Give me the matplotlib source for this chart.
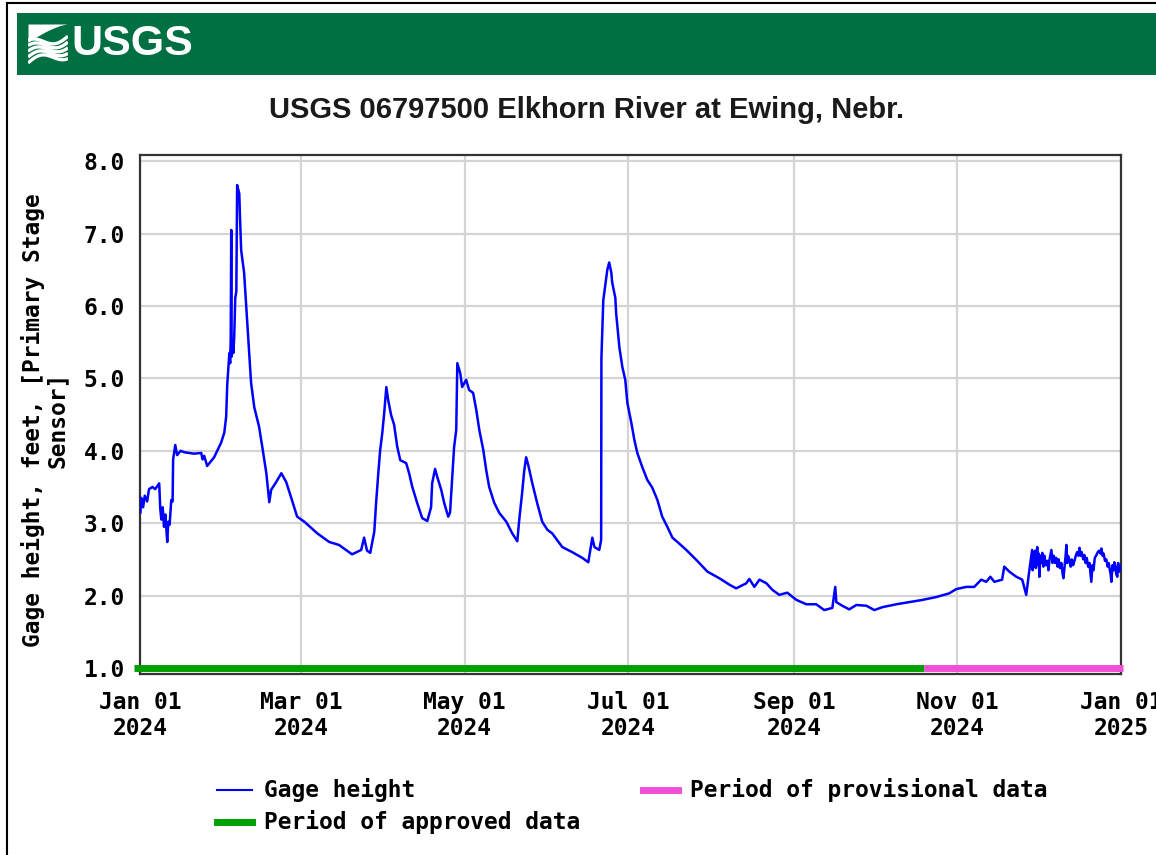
import numpy as np
import pandas as pd
import matplotlib
matplotlib.use('Agg')
import matplotlib.pyplot as plt
from matplotlib.lines import Line2D
from matplotlib.patches import Rectangle

# Gage height readings
# day: days since 2024-01-01 00:00, ft: gage height in feet
winter_day = [0.0, 0.3, 1.0, 1.6, 2.5, 3.2, 4.5, 5.5, 7.0, 7.4,
              7.8, 8.3, 8.8, 9.3, 10.0, 10.4, 10.9, 11.5, 12.0, 12.2,
              13.0, 13.7, 15.0, 16.3, 20.0, 22.7, 23.2, 23.8, 24.9, 27.5,
              30.1, 31.3, 32.0, 32.4, 33.2, 33.5, 33.7, 33.9, 34.05, 34.4,
              34.7, 35.0, 35.4, 35.8, 36.1, 36.9, 37.2, 37.6, 38.7, 39.5,
              40.6, 41.3, 42.5, 44.3, 45.5, 47.0, 48.1, 48.8, 50.7, 52.6,
              54.4, 56.3, 58.5, 61.2, 66.0, 70.5, 74.1, 79.0, 82.4]
winter_ft = [3.15, 3.35, 3.22, 3.38, 3.30, 3.47, 3.50, 3.47, 3.55, 3.20,
             3.05, 3.22, 2.95, 3.12, 2.74, 3.02, 2.98, 3.32, 3.30, 3.88,
             4.08, 3.94, 4.00, 3.98, 3.96, 3.97, 3.88, 3.93, 3.79, 3.91,
             4.11, 4.25, 4.47, 4.91, 5.35, 5.21, 5.55, 7.05, 5.30, 5.52,
             5.35, 5.57, 6.11, 6.20, 7.67, 7.55, 7.19, 6.77, 6.46, 5.99,
             5.36, 4.94, 4.60, 4.33, 4.05, 3.69, 3.29, 3.46, 3.57, 3.69,
             3.57, 3.35, 3.09, 3.02, 2.86, 2.74, 2.70, 2.57, 2.63]

spring_day = [83.5, 84.6, 85.8, 86.5, 87.3, 88.0, 88.8, 89.5, 90.3, 91.0,
              91.8, 92.5, 93.6, 94.7, 95.9, 97.0, 99.2, 100.3, 101.5, 103.3,
              105.2, 107.1, 108.5, 108.9, 110.0, 110.8, 112.3, 113.4, 114.9, 115.6,
              116.4, 117.1, 117.9, 118.3, 119.4, 120.1, 121.6, 122.7, 124.2, 125.4,
              126.5, 128.0, 129.1, 130.2, 132.1, 134.0, 136.6, 138.8, 140.7, 141.4,
              142.5, 143.3, 144.0, 144.8, 146.3, 148.1, 150.0, 151.9, 153.7, 157.5,
              161.2, 165.0, 167.2, 168.7, 169.5, 171.3, 172.0]
spring_ft = [2.80, 2.62, 2.59, 2.73, 2.88, 3.29, 3.69, 4.01, 4.25, 4.52,
             4.88, 4.70, 4.49, 4.36, 4.05, 3.87, 3.83, 3.69, 3.50, 3.28,
             3.07, 3.03, 3.22, 3.55, 3.75, 3.64, 3.46, 3.28, 3.09, 3.15,
             3.64, 4.05, 4.29, 5.21, 5.07, 4.88, 4.98, 4.84, 4.80, 4.56,
             4.29, 4.01, 3.73, 3.50, 3.28, 3.14, 3.02, 2.86, 2.75, 3.04,
             3.42, 3.73, 3.91, 3.80, 3.55, 3.28, 3.02, 2.91, 2.86, 2.67,
             2.60, 2.52, 2.46, 2.80, 2.67, 2.63, 2.77]

summer_day = [172.1, 172.8, 173.9, 174.3, 175.0, 175.8, 176.1, 177.3, 177.6, 178.8,
              179.9, 181.0, 181.8, 183.3, 184.4, 185.5, 187.3, 189.2, 191.1, 193.0,
              194.8, 196.7, 198.6, 200.5, 203.8, 207.6, 211.7, 216.1, 219.9, 222.4,
              226.2, 227.3, 229.2, 231.1, 233.7, 235.9, 238.5, 241.5, 244.9, 248.6,
              252.3, 255.3, 258.3, 259.4, 259.8, 262.0, 264.6, 267.3, 271.0, 274.0,
              277.0, 282.2, 287.0, 291.9, 297.1]
summer_ft = [5.28, 6.08, 6.39, 6.50, 6.60, 6.46, 6.33, 6.11, 5.90, 5.43,
             5.16, 4.98, 4.66, 4.38, 4.15, 3.97, 3.78, 3.60, 3.49, 3.32,
             3.09, 2.95, 2.80, 2.74, 2.63, 2.49, 2.33, 2.24, 2.15, 2.10,
             2.17, 2.23, 2.12, 2.22, 2.17, 2.08, 2.01, 2.04, 1.94, 1.88,
             1.88, 1.80, 1.83, 2.12, 1.91, 1.86, 1.81, 1.87, 1.86, 1.80,
             1.84, 1.88, 1.91, 1.94, 1.98]

fall_day = [301.9, 304.6, 308.3, 311.3, 313.9, 315.8, 317.3, 318.8, 321.7, 322.5,
            324.4, 327.0, 329.2, 330.7, 331.8, 332.9, 333.1, 333.4, 333.7, 334.0,
            334.3, 334.8, 335.1, 335.4, 335.6, 336.0, 336.4, 336.7, 337.1, 337.5,
            338.0, 338.6, 339.0, 339.4, 340.1, 340.5, 341.0, 341.5, 341.9, 342.4,
            342.8, 343.3, 343.8, 344.3, 344.6, 345.0, 345.4, 345.7, 346.0, 346.3,
            346.8, 347.3, 347.7, 348.2, 348.7, 349.2, 349.7, 350.2, 350.6, 351.0,
            351.4, 352.0, 352.4, 352.9, 353.3, 353.8, 354.3, 354.7, 355.0, 355.4,
            355.8, 356.3, 356.9, 357.4, 357.9, 358.4, 358.8, 359.2, 359.6, 360.1,
            360.6, 361.1, 361.5, 361.8, 362.2, 362.5, 362.9, 363.3, 363.6, 364.0,
            364.3, 364.7, 365.0, 365.4, 365.8, 366.0]
fall_ft = [2.03, 2.09, 2.12, 2.12, 2.22, 2.19, 2.26, 2.19, 2.22, 2.40,
           2.33, 2.26, 2.22, 2.01, 2.33, 2.63, 2.35, 2.60, 2.40, 2.62,
           2.38, 2.67, 2.42, 2.58, 2.26, 2.55, 2.45, 2.59, 2.40, 2.55,
           2.42, 2.48, 2.35, 2.50, 2.63, 2.45, 2.55, 2.45, 2.52, 2.40,
           2.50, 2.38, 2.45, 2.30, 2.24, 2.40, 2.55, 2.70, 2.45, 2.55,
           2.49, 2.40, 2.50, 2.42, 2.48, 2.55, 2.60, 2.55, 2.66, 2.55,
           2.60, 2.50, 2.56, 2.45, 2.52, 2.40, 2.45, 2.30, 2.19, 2.42,
           2.35, 2.52, 2.56, 2.60, 2.62, 2.58, 2.65, 2.55, 2.58, 2.48,
           2.50, 2.40, 2.45, 2.38, 2.30, 2.19, 2.42, 2.35, 2.46, 2.40,
           2.30, 2.26, 2.45, 2.33, 2.42, 2.38]

approved_start = '2023-12-29 16:00'
approved_end = '2024-10-19 14:00'
provisional_end = '2025-01-01 16:00'

tick_dates = ['2024-01-01', '2024-03-01', '2024-05-01', '2024-07-01',
              '2024-09-01', '2024-11-01', '2025-01-01']
tick_labels = ['Jan 01\n2024', 'Mar 01\n2024', 'May 01\n2024', 'Jul 01\n2024',
               'Sep 01\n2024', 'Nov 01\n2024', 'Jan 01\n2025']
y_ticks = [1, 2, 3, 4, 5, 6, 7, 8]

title = 'USGS 06797500 Elkhorn River at Ewing, Nebr.'
ylabel = 'Gage height, feet, [Primary Stage\nSensor]'

day = winter_day + spring_day + summer_day + fall_day
gage_ft = winter_ft + spring_ft + summer_ft + fall_ft
assert len(day) == len(gage_ft)

W, H = 1156, 855
mono = dict(family='DejaVu Sans Mono', weight='bold', size=16.5)

dates = pd.Timestamp('2024-01-01') + pd.to_timedelta(day, unit='D')

fig = plt.figure(figsize=(W / 100, H / 100), dpi=100)
fig.patch.set_facecolor('white')

# outer frame (left/top visible)
fig.add_artist(Line2D([7 / W, 7 / W], [0, 1 - 3 / H], color='black', lw=1.5))
fig.add_artist(Line2D([7 / W, 1], [1 - 3 / H, 1 - 3 / H], color='black', lw=1.5))

# USGS header bar
fig.add_artist(Rectangle((17 / W, 1 - 75 / H), 1, 62 / H, color='#006f41', lw=0, zorder=0))
fig.text(71 / W, 1 - 44 / H, 'USGS', color='white', fontsize=31, weight='bold',
         family='Liberation Sans', va='center', ha='left', zorder=6)

# wave logo mark
icon = fig.add_axes([28 / W, 1 - 65 / H, 40 / W, 41 / H])
icon.set_zorder(5)
icon.set_xlim(0, 1)
icon.set_ylim(0, 1)
icon.axis('off')
xs = np.linspace(0, 1, 50)
icon.fill_between(xs, 1 - 0.45 * (1 - xs) ** 1.5, 1, color='white', lw=0)
for k in range(5):
    off = 0.05 + k * 0.11
    icon.plot(xs, off + 0.12 * np.sin(np.pi * xs * 1.6 + k * 0.3) + 0.22 * xs,
              color='white', lw=2.4, solid_capstyle='butt')

fig.text(587 / W, 1 - 110 / H, title, ha='center', va='center', fontsize=21,
         weight='bold', family='Liberation Sans', color='#1a1a1a')

ax = fig.add_axes([140 / W, 1 - 674 / H, (1121 - 140) / W, (674 - 155) / H])
ax.plot(dates, gage_ft, color='#0000ff', lw=1.8, zorder=3)
ax.plot(pd.to_datetime([approved_start, approved_end]), [1, 1], color='#00a000',
        lw=5, solid_capstyle='butt', clip_on=False, zorder=4)
ax.plot(pd.to_datetime([approved_end, provisional_end]), [1, 1], color='#f050d8',
        lw=5, solid_capstyle='butt', clip_on=False, zorder=4)

ax.set_xlim(pd.Timestamp('2023-12-31 20:00'), pd.Timestamp('2025-01-01 02:00'))
ax.set_ylim(0.917, 8.085)
ax.set_xticks(pd.to_datetime(tick_dates))
ax.set_xticklabels(tick_labels, **mono)
ax.set_yticks(y_ticks)
ax.set_yticklabels(['%.1f' % v for v in y_ticks], **mono)
ax.tick_params(axis='both', length=0)
ax.tick_params(axis='x', pad=12)
ax.tick_params(axis='y', pad=11)
ax.grid(True, color='#d4d4d4', lw=1.6)
ax.set_axisbelow(True)
for s in ax.spines.values():
    s.set_color('#333333')
    s.set_linewidth(1.6)

fig.text(45 / W, 1 - 420 / H, ylabel, rotation=90, ha='center', va='center',
         multialignment='center', linespacing=1.05, **mono)

# legend
fig.add_artist(Line2D([217 / W, 252 / W], [1 - 790 / H] * 2, color='#0000ff', lw=1.5))
fig.text(264 / W, 1 - 790 / H, 'Gage height', va='center', ha='left', **mono)
fig.add_artist(Line2D([217 / W, 252 / W], [1 - 822 / H] * 2, color='#00a000', lw=5))
fig.text(264 / W, 1 - 822 / H, 'Period of approved data', va='center', ha='left', **mono)
fig.add_artist(Line2D([643 / W, 678 / W], [1 - 790 / H] * 2, color='#f050d8', lw=5))
fig.text(690 / W, 1 - 790 / H, 'Period of provisional data', va='center', ha='left', **mono)

fig.savefig('out.png', dpi=100)
